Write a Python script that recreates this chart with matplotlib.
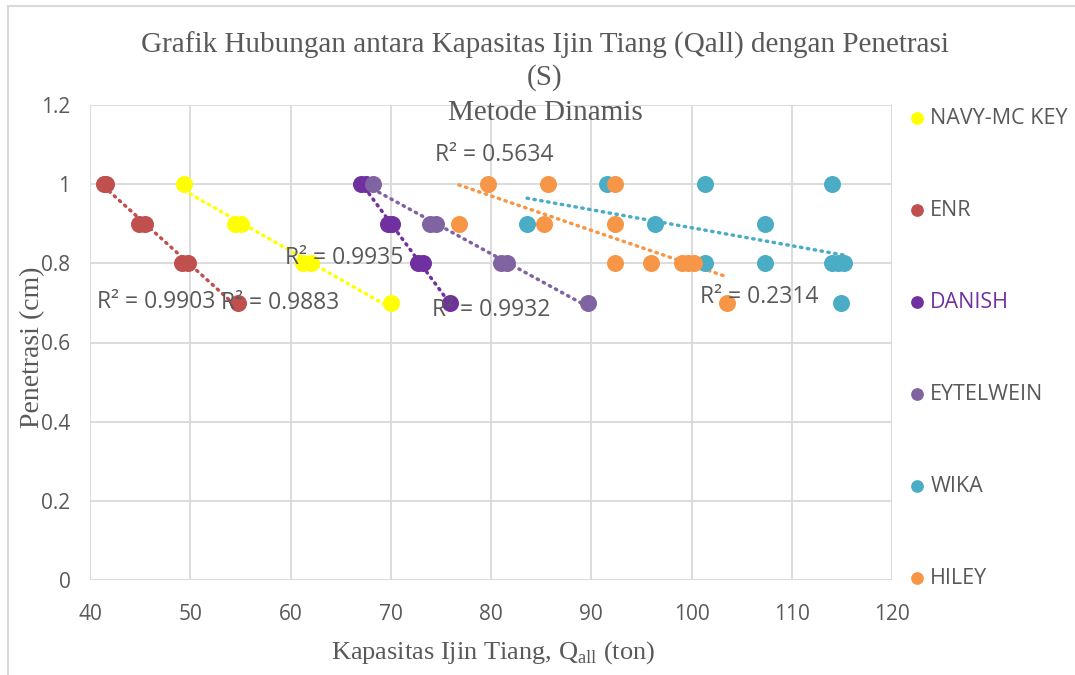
import numpy as np
import matplotlib.pyplot as plt
from matplotlib.lines import Line2D

# data: (Qall in ton, penetrasi in cm)
navy_x = [49.4, 54.5, 55.1, 61.2, 62.0, 70.0]
navy_y = [1.0, 0.9, 0.9, 0.8, 0.8, 0.7]
enr_x = [41.4, 41.6, 44.9, 45.5, 49.2, 49.8, 54.8]
enr_y = [1.0, 1.0, 0.9, 0.9, 0.8, 0.8, 0.7]
danish_x = [67.0, 67.5, 69.7, 70.1, 72.7, 73.2, 75.9]
danish_y = [1.0, 1.0, 0.9, 0.9, 0.8, 0.8, 0.7]
eytel_x = [68.2, 73.9, 74.5, 81.0, 81.6, 89.7]
eytel_y = [1.0, 0.9, 0.9, 0.8, 0.8, 0.7]
wika_x = [91.6, 101.3, 114.0, 83.6, 96.4, 107.3, 101.3, 107.3, 114.0, 114.6, 115.2, 114.9]
wika_y = [1.0, 1.0, 1.0, 0.9, 0.9, 0.9, 0.8, 0.8, 0.8, 0.8, 0.8, 0.7]
hiley_x = [79.7, 85.7, 92.4, 76.8, 85.3, 92.4, 92.4, 96.0, 99.1, 99.7, 100.2, 103.5]
hiley_y = [1.0, 1.0, 1.0, 0.9, 0.9, 0.9, 0.8, 0.8, 0.8, 0.8, 0.8, 0.7]

names = ['NAVY-MC KEY', 'ENR', 'DANISH', 'EYTELWEIN', 'WIKA', 'HILEY']
colors = ['#FFFF00', '#C0504D', '#7030A0', '#8064A2', '#4BACC6', '#F79646']
series = [(navy_x, navy_y), (enr_x, enr_y), (danish_x, danish_y),
          (eytel_x, eytel_y), (wika_x, wika_y), (hiley_x, hiley_y)]

# R² labels as shown on the chart (text, x, y)
r2_labels = [('R² = 0.9903', 40.7, 0.702), ('R² = 0.9883', 53.1, 0.700),
             ('R² = 0.9935', 59.45, 0.813), ('R² = 0.9932', 74.1, 0.682),
             ('R² = 0.5634', 74.4, 1.074), ('R² = 0.2314', 100.85, 0.715)]

gray = '#595959'
serif = 'Liberation Serif'
sans = 'Open Sans'

fig = plt.figure(figsize=(10.75, 6.75), dpi=100)
ax = fig.add_axes([90 / 1075, 1 - 580 / 675, 802 / 1075, 475 / 675])

for (xs, ys), c, n in zip(series, colors, names):
    ax.scatter(xs, ys, s=150, color=c, zorder=3, label=n, linewidths=0)
    # linear trendline over the data range
    k, b = np.polyfit(xs, ys, 1)
    tx = np.array([min(xs), max(xs)])
    ax.plot(tx, k * tx + b, color=c, lw=2.5, ls=(0, (0.4, 1.6)),
            dash_capstyle='round', zorder=2)

for t, x, y in r2_labels:
    ax.text(x, y, t, fontsize=16.5, color=gray, family=sans, va='center', ha='left', zorder=4)

ax.set_xlim(40, 120)
ax.set_ylim(0, 1.2)
ax.set_xticks(np.arange(40, 121, 10))
ax.set_yticks(np.arange(0, 1.21, 0.2))
ax.set_yticklabels(['0', '0.2', '0.4', '0.6', '0.8', '1', '1.2'])
ax.grid(True, color='#D9D9D9', lw=1.3)
ax.set_axisbelow(True)
for s in ax.spines.values():
    s.set_visible(False)
ax.tick_params(length=0, labelsize=15, labelcolor=gray)
ax.tick_params(axis='x', pad=17)
ax.tick_params(axis='y', pad=14)
for lab in ax.get_xticklabels() + ax.get_yticklabels():
    lab.set_family(sans)

ax.set_xlabel('Kapasitas Ijin Tiang, Q$_{\\mathregular{all}}$ (ton)', family=serif,
              fontsize=19, color=gray)
ax.xaxis.set_label_coords((493 - 90) / 802, -(639 - 580) / 475)
ax.set_ylabel('Penetrasi (cm)', family=serif, fontsize=20, color=gray)
ax.yaxis.set_label_coords(-(90 - 45) / 802, 0.5 - (347 - 342.5) / 475)

fig.text(0.507, 1 - 45 / 675, 'Grafik Hubungan antara Kapasitas Ijin Tiang (Qall) dengan Penetrasi',
         family=serif, fontsize=21, color=gray, ha='center', va='center')
fig.text(0.507, 1 - 78 / 675, '(S)', family=serif, fontsize=21, color=gray, ha='center', va='center')
fig.text(0.507, 1 - 113 / 675, 'Metode Dinamis', family=serif, fontsize=21, color=gray,
         ha='center', va='center')

leg = ax.legend(loc='upper left', bbox_to_anchor=(1 - 7 / 802, 1.035), frameon=False,
                prop={'family': sans, 'size': 15.5}, labelspacing=3.3,
                handlelength=1.2, handletextpad=0.0, markerscale=0.75, borderaxespad=0.5)
for txt, c in zip(leg.get_texts(), names):
    txt.set_color('#7030A0' if c == 'DANISH' else gray)

# chart border (left and top edges)
fig.add_artist(Line2D([8 / 1075, 8 / 1075], [0, 1 - 6 / 675], color='#D9D9D9', lw=1.5))
fig.add_artist(Line2D([8 / 1075, 1], [1 - 6 / 675, 1 - 6 / 675], color='#D9D9D9', lw=1.5))

fig.savefig('out.png', dpi=100, facecolor='white')
